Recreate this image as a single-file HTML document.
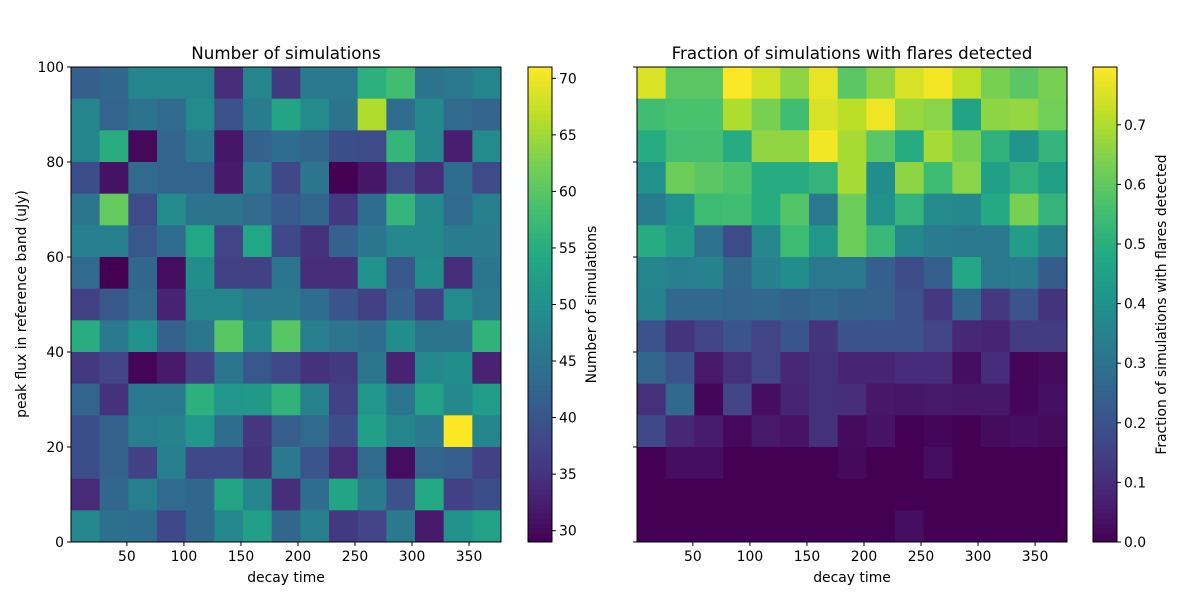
<!DOCTYPE html>
<html><head><meta charset="utf-8"><style>
body{margin:0;background:#fff;font-family:"Liberation Sans","DejaVu Sans",sans-serif;}
svg text{font-family:"DejaVu Sans","Liberation Sans",sans-serif;fill:#000;}
</style></head><body>
<svg id="chart" width="1200" height="600" xmlns="http://www.w3.org/2000/svg"></svg>
<script>
const xTicks=[50,100,150,200,250,300,350];
const yTicks=[0,20,40,60,80,100];
const cb1Ticks=[30,35,40,45,50,55,60,65,70];
const cb2Ticks=[0,0.1,0.2,0.3,0.4,0.5,0.6,0.7];
// rows top (y=100) to bottom (y=0), 15 columns each
const nSims=[
[41.6,43,48,48,48,34.5,48,36,46,46,55.5,58,45,46,48],
[48,42.5,45,43.5,49,39.5,46.5,53.5,49,45,66,44,48.5,43.5,42.5],
[48,55,30,42.5,46,31.5,42,44,43,39,38.5,56.5,48.5,32.5,49],
[39,31,43.5,42.5,42.5,32,46,38,45.5,29,31.5,38.5,34.5,44,38.5],
[45.5,61,38.5,49,45,45,43.5,41,43,36,44,56.5,48.5,43.5,47],
[47,47,40.5,44,54,37.5,54,38,35,42,45.5,48.5,48.5,46.5,46.5],
[43.5,29,43,30.5,49.5,37,37,45.5,34.5,34.5,50,40.5,49.5,34.5,45.5],
[37,40.5,43.5,33,48,48,46,46,44,40,37,42,37,49,46],
[55,46,50,42,45.5,60,48.5,60,47,45.5,44,49.5,45,45,56],
[36,37.5,29.5,32,37,45.5,40.5,38,35,36,45.5,33,48.5,49.5,33],
[42.5,35,46,46,55.5,51,51.5,56,47.5,37,51,45.5,53,48.5,52],
[39,42,47,47.5,51,44,35.5,41.5,43.5,39,52.5,48,46,71,48],
[39,42,37,47,38,38,35,46,40,34,43.5,30.5,42.5,41.5,37],
[34,43,47,43.5,43,53.5,48,34.5,44,53.5,46.5,39.5,54.5,37,39],
[48.5,44.5,44,38,43,48.5,52.5,43,47,36,37.5,46,32,50,53]];
const fracDet=[
[0.755,0.59,0.59,0.795,0.74,0.66,0.77,0.59,0.66,0.75,0.785,0.72,0.635,0.59,0.635],
[0.55,0.565,0.565,0.70,0.635,0.55,0.75,0.715,0.78,0.675,0.655,0.46,0.66,0.67,0.625],
[0.49,0.555,0.56,0.49,0.665,0.665,0.785,0.69,0.59,0.49,0.69,0.635,0.51,0.41,0.52],
[0.40,0.615,0.59,0.57,0.49,0.49,0.52,0.69,0.39,0.66,0.545,0.655,0.45,0.51,0.45],
[0.33,0.40,0.545,0.55,0.49,0.58,0.32,0.615,0.40,0.52,0.38,0.37,0.48,0.635,0.52],
[0.49,0.43,0.30,0.18,0.37,0.545,0.42,0.615,0.53,0.37,0.33,0.32,0.32,0.44,0.35],
[0.36,0.34,0.35,0.27,0.345,0.39,0.32,0.32,0.24,0.18,0.24,0.47,0.32,0.33,0.23],
[0.35,0.27,0.27,0.255,0.27,0.25,0.27,0.25,0.245,0.2,0.13,0.265,0.13,0.21,0.12],
[0.2,0.12,0.16,0.21,0.16,0.21,0.12,0.2,0.2,0.2,0.16,0.09,0.08,0.14,0.14],
[0.26,0.20,0.055,0.11,0.16,0.09,0.11,0.08,0.08,0.10,0.10,0.03,0.10,0.01,0.025],
[0.11,0.27,0.01,0.16,0.03,0.08,0.11,0.105,0.05,0.045,0.055,0.05,0.05,0.01,0.035],
[0.17,0.09,0.06,0.015,0.055,0.04,0.11,0.025,0.04,0,0.01,0,0.025,0.03,0.025],
[0,0.03,0.03,0,0,0,0,0.02,0,0,0.03,0,0,0,0],
[0,0,0,0,0,0,0,0,0,0,0,0,0,0,0],
[0,0,0,0,0,0,0,0,0,0.03,0,0,0,0,0]];
const VIR=["#440154","#482475","#414487","#355f8d","#2a788e","#21918c","#22a884","#44bf70","#7ad151","#bddf26","#fde725"];
function hex(h){return[1,3,5].map(i=>parseInt(h.substr(i,2),16));}
function viridis(t){t=Math.max(0,Math.min(1,t));const f=t*10,i=Math.min(9,Math.floor(f)),r=f-i;const a=hex(VIR[i]),b=hex(VIR[i+1]);return"rgb("+a.map((v,k)=>Math.round(v+(b[k]-v)*r)).join(",")+")";}
const svg=document.getElementById('chart');const NS="http://www.w3.org/2000/svg";
function el(tag,attrs,parent){const e=document.createElementNS(NS,tag);for(const k in attrs)e.setAttribute(k,attrs[k]);(parent||svg).appendChild(e);return e;}
function txt(x,y,s,anchor,extra,size){const t=el('text',Object.assign({x:x,y:y,'text-anchor':anchor||'middle',style:'font-size:'+(size||13.9)+'px'},extra||{}));t.textContent=s;return t;}
const PT=67,PB=542,XMIN=1,XMAX=378;
function drawPanel(x0,data,vmin,vmax,title,showY,name){
  const g=el('g',{});
  
  
  const W=430,sx=v=>x0+(v-XMIN)/(XMAX-XMIN)*W,sy=v=>PB-(v/100)*(PB-PT);
  const nr=data.length,nc=data[0].length,cw=W/nc,rh=(PB-PT)/nr;
  for(let r=0;r<nr;r++)for(let c=0;c<nc;c++){
    const rc=el('rect',{x:x0+c*cw,y:PT+r*rh,width:cw+0.5,height:rh+0.5,fill:viridis((data[r][c]-vmin)/(vmax-vmin))},g);
    
    
  }
  el('rect',{x:x0,y:PT,width:W,height:PB-PT,fill:'none',stroke:'#000','stroke-width':1},g);
  xTicks.forEach(v=>{const x=sx(v);el('line',{x1:x,x2:x,y1:PB,y2:PB+4,stroke:'#000'},g);const t=txt(x,PB+19,String(v));});
  yTicks.forEach(v=>{const y=sy(v);el('line',{x1:x0,x2:x0-4,y1:y,y2:y,stroke:'#000'},g);if(showY){const t=txt(x0-7,y+5,String(v),'end');}});
  const xt=txt(x0+W/2,PB+40,'decay time');
  const tt=txt(x0+W/2,PT-8,title,'middle',{},16.7);
}
function drawCbar(x0,vmin,vmax,ticks,label,fmt,lx,name){
  const g=el('g',{});
  
  
  const W=24,n=100,h=(PB-PT)/n;
  for(let i=0;i<n;i++)el('rect',{x:x0,y:PB-(i+1)*h,width:W,height:h+0.5,fill:viridis((i+0.5)/n)},g);
  el('rect',{x:x0,y:PT,width:W,height:PB-PT,fill:'none',stroke:'#000'},g);
  ticks.forEach(v=>{const y=PB-(v-vmin)/(vmax-vmin)*(PB-PT);el('line',{x1:x0+W,x2:x0+W+4,y1:y,y2:y,stroke:'#000'},g);const t=txt(x0+W+7,y+5,fmt(v),'start');});
  const l=txt(lx,(PT+PB)/2,label,'middle',{transform:'rotate(-90 '+lx+' '+(PT+PB)/2+')'});
}
drawPanel(71,nSims,29,71,'Number of simulations',true,'num-sims-heatmap');
drawPanel(637,fracDet,0,0.797,'Fraction of simulations with flares detected',false,'fraction-heatmap');
drawCbar(528,29,71,cb1Ticks,'Number of simulations',v=>String(v),596,'num-sims-colorbar');
drawCbar(1093,0,0.797,cb2Ticks,'Fraction of simulations with flares detected',v=>v.toFixed(1),1166,'fraction-colorbar');
const yl=txt(26,304,'peak flux in reference band (uJy)','middle',{transform:'rotate(-90 26 304)'});


</script>
</body></html>
